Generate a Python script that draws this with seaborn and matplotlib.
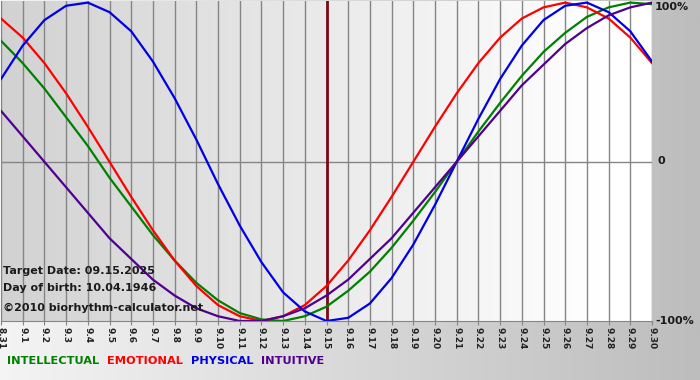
import numpy as np
import pandas as pd
import seaborn as sns
import matplotlib.pyplot as plt

days = ['8.31'] + ['9.%d' % d for d in range(1, 31)]

physical = [0.52, 0.73, 0.89, 0.98, 1.00, 0.94, 0.82, 0.63, 0.40, 0.14, -0.14, -0.40, -0.63, -0.82, -0.94, -1.00,
            -0.98, -0.89, -0.73, -0.52, -0.27, 0.00, 0.27, 0.52, 0.73, 0.89, 0.98, 1.00, 0.94, 0.82, 0.63]
emotional = [0.90, 0.78, 0.62, 0.43, 0.22, 0.00, -0.22, -0.43, -0.62, -0.78, -0.90, -0.97, -1.00, -0.97, -0.90, -0.78,
             -0.62, -0.43, -0.22, 0.00, 0.22, 0.43, 0.62, 0.78, 0.90, 0.97, 1.00, 0.97, 0.90, 0.78, 0.62]
intellectual = [0.76, 0.62, 0.46, 0.28, 0.10, -0.10, -0.28, -0.46, -0.62, -0.76, -0.87, -0.95, -0.99, -1.00, -0.97, -0.91,
                -0.81, -0.69, -0.54, -0.37, -0.19, 0.00, 0.19, 0.37, 0.54, 0.69, 0.81, 0.91, 0.97, 1.00, 0.99]
intuitive = [0.32, 0.16, 0.00, -0.16, -0.32, -0.48, -0.61, -0.74, -0.84, -0.92, -0.97, -1.00, -1.00, -0.97, -0.92, -0.84,
             -0.74, -0.61, -0.48, -0.32, -0.16, 0.00, 0.16, 0.32, 0.48, 0.61, 0.74, 0.84, 0.92, 0.97, 1.00]

target_day = '9.15'
colors = {'INTELLECTUAL': '#008000', 'EMOTIONAL': '#ff0000', 'PHYSICAL': '#0000e6', 'INTUITIVE': '#500090'}

df = pd.DataFrame({'pos': range(len(days)), 'INTELLECTUAL': intellectual, 'EMOTIONAL': emotional,
                   'PHYSICAL': physical, 'INTUITIVE': intuitive})
df = df.melt(id_vars='pos', var_name='cycle', value_name='value')

fig = plt.figure(figsize=(7, 3.8), dpi=100)

# figure background gradient
bg = fig.add_axes([0, 0, 1, 1])
grad = np.linspace(0, 1, 256).reshape(1, -1)
bg.imshow(grad, aspect='auto', cmap=plt.matplotlib.colors.LinearSegmentedColormap.from_list('g', ['#f4f4f4', '#bdbdbd']),
          extent=[0, 1, 0, 1])
bg.axis('off')

ax = fig.add_axes([1 / 700, 1 - 321 / 380, 651 / 700, 320 / 380])
n = len(days) - 1
ax.imshow(grad, aspect='auto', cmap=plt.matplotlib.colors.LinearSegmentedColormap.from_list('p', ['#d2d2d2', '#ffffff']),
          extent=[0, n * 0.92, -1.02, 1.02], zorder=0)
ax.axvspan(n * 0.92, n, color='white', zorder=0)
for i in range(len(days)):
    ax.axvline(i, color='#858585', lw=1, zorder=1)
ax.axhline(0, color='#858585', lw=1, zorder=1)
ax.axvline(days.index(target_day), color='#7a0a14', lw=2, zorder=1.5)

sns.lineplot(data=df, x='pos', y='value', hue='cycle', palette=colors, lw=1.6, ax=ax, legend=False, zorder=2)

ax.set_xlim(0, n)
ax.set_ylim(-1.0, 1.01)
ax.set_xticks(range(len(days)))
ax.set_xticklabels(days, rotation=270, fontsize=6.5, fontweight='bold', color='#222222')
ax.tick_params(axis='x', length=3, color='#858585', pad=1)
ax.set_yticks([])
ax.set_xlabel('')
ax.set_ylabel('')
for s in ['top', 'left', 'right']:
    ax.spines[s].set_visible(False)
ax.spines['bottom'].set_color('#858585')

fs = 8
ax.text(2 / 651, 1 - 270 / 320, 'Target Date: 09.15.2025', transform=ax.transAxes, fontsize=fs, fontweight='bold',
        color='#1a1a1a', va='center')
ax.text(2 / 651, 1 - 287 / 320, 'Day of birth: 10.04.1946', transform=ax.transAxes, fontsize=fs, fontweight='bold',
        color='#1a1a1a', va='center')
ax.text(2 / 651, 1 - 307 / 320, '\u00a92010 biorhythm-calculator.net', transform=ax.transAxes, fontsize=fs,
        fontweight='bold', color='#1a1a1a', va='center')

fig.text(655 / 700, 1 - 7 / 380, '100%', fontsize=fs, fontweight='bold', color='#1a1a1a', va='center')
fig.text(657 / 700, 1 - 161 / 380, '0', fontsize=fs, fontweight='bold', color='#1a1a1a', va='center')
fig.text(655 / 700, 1 - 321 / 380, '-100%', fontsize=fs, fontweight='bold', color='#1a1a1a', va='center')

x = 7
for name in ['INTELLECTUAL', 'EMOTIONAL', 'PHYSICAL', 'INTUITIVE']:
    t = fig.text(x / 700, 1 - 361 / 380, name, fontsize=8.2, fontweight='bold', color=colors[name], va='center')
    fig.canvas.draw()
    w = t.get_window_extent().width
    x += w + 8

fig.savefig('out.png', dpi=100)
